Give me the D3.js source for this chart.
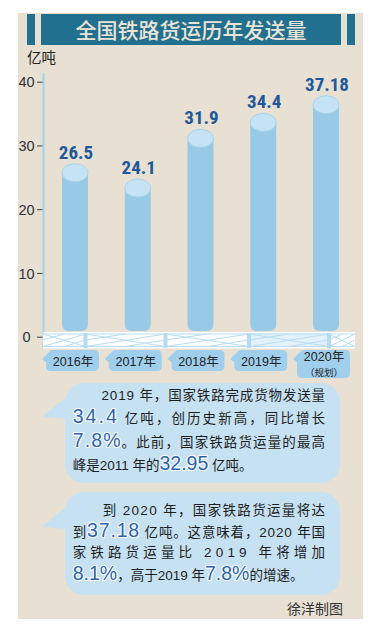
<!DOCTYPE html>
<html><head><meta charset="utf-8">
<script src="https://cdn.jsdelivr.net/npm/d3@7"></script>
<style>body{margin:0;background:#fff}svg{display:block}</style>
</head><body>
<svg id="c" width="384" height="642"></svg>
<script>
// ---- data ----
const title = "全国铁路货运历年发送量";
const unitLabel = "亿吨";
const years = ["2016年", "2017年", "2018年", "2019年", "2020年"];
const yearNotes = ["", "", "", "", "（规划）"];
const values = [26.5, 24.1, 31.9, 34.4, 37.18];
const valueLabels = ["26.5", "24.1", "31.9", "34.4", "37.18"];
const yTicks = [0, 10, 20, 30, 40];
// text blocks: [segment text, highlighted]
const note1 = [
  [["2019 年，国家铁路完成货物发送量", 0]],
  [["34.4", 1], [" 亿吨，创历史新高，同比增长", 0]],
  [["7.8%", 1], ["。此前，国家铁路货运量的最高", 0]],
  [["峰是2011 年的", 0], ["32.95", 1], [" 亿吨。", 0]]
];
const note2 = [
  [["到 2020 年，国家铁路货运量将达", 0]],
  [["到", 0], ["37.18", 1], [" 亿吨。这意味着，2020 年国", 0]],
  [["家铁路货运量比 2019 年将增加", 0]],
  [["8.1%", 1], ["，高于2019 年", 0], ["7.8%", 1], ["的增速。", 0]]
];
const credit = "徐洋制图";

// ---- drawing ----
const svg = d3.select("#c");
const FONT = "'Liberation Sans','Noto Sans CJK SC',sans-serif";
const CJK = "'Noto Sans CJK SC',sans-serif";

svg.append("rect").attr("width", 384).attr("height", 642).attr("fill", "#fff");
svg.append("rect").attr("x", 18).attr("y", 13).attr("width", 345).attr("height", 606).attr("fill", "#e8e0d3");

// title bar
const TB = "#21708f";
svg.append("rect").attr("x", 27).attr("y", 14).attr("width", 8).attr("height", 31).attr("fill", TB);
svg.append("rect").attr("x", 41).attr("y", 14).attr("width", 300).attr("height", 31).attr("fill", TB);
svg.append("rect").attr("x", 347).attr("y", 14).attr("width", 8).attr("height", 31).attr("fill", TB);
svg.append("text").attr("x", 191).attr("y", 37.5).attr("text-anchor", "middle")
  .attr("font-family", CJK).attr("font-size", 21).attr("font-weight", 500)
  .attr("fill", "#ebe3d5").text(title);

svg.append("text").attr("x", 27).attr("y", 62.5).attr("font-family", CJK)
  .attr("font-size", 14.5).attr("fill", "#222").text(unitLabel);

// scales
const x = d3.scalePoint().domain(years).range([75, 326]);
const y = d3.scaleLinear().domain([0, 40]).range([336.7, 81.7]);

// axis
const ax = svg.append("g").attr("transform", "translate(43,0)")
  .call(d3.axisLeft(y).tickValues(yTicks).tickSize(6).tickFormat(d3.format("d")));
ax.select(".domain").remove();
ax.selectAll(".tick line").attr("stroke", "#444").attr("stroke-width", 1);
ax.selectAll(".tick text").attr("x", -16.5).attr("text-anchor", "middle")
  .attr("font-family", FONT).attr("font-size", 14.5).attr("fill", "#333").attr("dy", "0.36em");
svg.append("line").attr("x1", 43.5).attr("x2", 43.5).attr("y1", 73).attr("y2", 348.5)
  .attr("stroke", "#a3d2ee").attr("stroke-width", 2);

// base platform (truss)
const base = svg.append("g");
base.append("rect").attr("x", 43).attr("y", 332).attr("width", 312).attr("height", 16.5).attr("fill", "#fdfeff");
base.append("rect").attr("x", 249).attr("y", 333).attr("width", 80).attr("height", 14).attr("fill", "#e3f1fa");
const posts = [43, 85.5, 165.5, 249, 329, 355];
const tl = "#b9def2";
base.append("line").attr("x1", 43).attr("x2", 355).attr("y1", 334).attr("y2", 334).attr("stroke", tl);
base.append("line").attr("x1", 43).attr("x2", 355).attr("y1", 346.5).attr("y2", 346.5).attr("stroke", tl);
for (let i = 0; i < posts.length - 1; i++) {
  const a = posts[i], b = posts[i + 1];
  base.append("line").attr("x1", a).attr("y1", 334).attr("x2", b).attr("y2", 346.5).attr("stroke", tl);
  base.append("line").attr("x1", a).attr("y1", 346.5).attr("x2", b).attr("y2", 334).attr("stroke", tl);
  const m = (a + b) / 2;
  base.append("line").attr("x1", a).attr("y1", 340).attr("x2", m).attr("y2", 334).attr("stroke", tl);
  base.append("line").attr("x1", m).attr("y1", 346.5).attr("x2", b).attr("y2", 340).attr("stroke", tl);
}
posts.slice(1, 5).forEach(p => {
  base.append("rect").attr("x", p - 2).attr("y", 333).attr("width", 4).attr("height", 15).attr("fill", "#b3dbf1");
});

// bars (cylinders)
const BW = 26, BOT = 331, RY = 9, R = 7;
const bars = svg.append("g").selectAll("g").data(values).join("g");
bars.each(function (v, i) {
  const g = d3.select(this);
  const cx = x(years[i]);
  const cy = y(v) + 5;
  const l = cx - BW / 2, r = cx + BW / 2;
  g.append("path").attr("d",
    `M${l},${cy} L${l},${BOT - R} Q${l},${BOT} ${l + R},${BOT} L${r - R},${BOT} Q${r},${BOT} ${r},${BOT - R} L${r},${cy} Z`)
    .attr("fill", "#98c9e6");
  g.append("ellipse").attr("cx", cx).attr("cy", cy).attr("rx", BW / 2).attr("ry", RY)
    .attr("fill", "#c5e3f5").attr("stroke", "#a6d4ee").attr("stroke-width", 1);
  g.append("text").attr("x", cx + 1).attr("y", cy - RY - 5).attr("text-anchor", "middle")
    .attr("font-family", "'Liberation Sans Narrow','Roboto Condensed','Liberation Sans',sans-serif")
    .attr("font-weight", "bold").attr("font-size", 19).attr("fill", "#20599b")
    .text(valueLabels[i]);
});

// x tags
const tags = svg.append("g");
years.forEach((yr, i) => {
  const cx = x(yr) - 3;
  const x0 = cx - 26, x1 = cx + 27, y0 = 350, y1 = yearNotes[i] ? 378 : 371, rr = 5;
  const p = `M${x0 + 3},${y0 + 2} Q${x0 + 5},${y0} ${x0 + rr + 2},${y0} L${x1 - rr},${y0} Q${x1},${y0} ${x1},${y0 + rr}
    L${x1},${y1 - rr} Q${x1},${y1} ${x1 - rr},${y1} L${x0 + rr},${y1} Q${x0},${y1} ${x0},${y1 - rr}
    L${x0},${y0 + 12} L${x0 - 4},${y0 + 9} Z`;
  tags.append("path").attr("d", p).attr("fill", "#9fcfec");
  const t = tags.append("text").attr("x", cx + 1).attr("text-anchor", "middle")
    .attr("font-family", FONT).attr("font-size", 12.5).attr("fill", "#222");
  if (yearNotes[i]) {
    t.attr("y", 361).text(yr);
    tags.append("text").attr("x", cx + 1).attr("y", 375.5).attr("text-anchor", "middle")
      .attr("font-family", CJK).attr("font-size", 9.5).attr("fill", "#222").text(yearNotes[i]);
  } else {
    t.attr("y", 365.5).text(yr);
  }
});

// bubbles
function bubble(yTop, h, tipY) {
  const g = svg.append("g");
  g.append("path").attr("d", `M42,${tipY} L80,${yTop + 3} L68,${tipY + 2} Z`).attr("fill", "#c6e1f2");
  g.append("rect").attr("x", 65).attr("y", yTop).attr("width", 275).attr("height", h).attr("rx", 19)
    .attr("fill", "#c6e1f2");
  return g;
}
function textLine(g, x0, yb, segs, justifyTo) {
  const t = g.append("text").attr("x", x0).attr("y", yb).attr("font-family", FONT)
    .attr("font-size", 13.5).attr("fill", "#1e1e1e");
  segs.forEach(([s, big]) => {
    const ts = t.append("tspan").text(s);
    if (big) {
      ts.attr("font-size", 19.5).attr("fill", "#2c63a7").attr("stroke", "#fff")
        .attr("stroke-width", 2.2).attr("paint-order", "stroke").attr("stroke-linejoin", "round");
    }
  });
  if (justifyTo) {
    t.attr("textLength", justifyTo - x0).attr("lengthAdjust", "spacing");
  }
}
const b1 = bubble(383, 100, 417);
const ys1 = [400, 423, 446.5, 470];
note1.forEach((segs, i) => textLine(b1, i === 0 ? 101.5 : 72.7, ys1[i], segs, i < 3 ? 325 : null));
const b2 = bubble(492, 103, 527);
const ys2 = [515, 537, 557, 580];
note2.forEach((segs, i) => textLine(b2, i === 0 ? 102.7 : 72.7, ys2[i], segs, i < 3 ? 325 : null));

svg.append("text").attr("x", 343).attr("y", 614).attr("text-anchor", "end")
  .attr("font-family", CJK).attr("font-size", 14).attr("fill", "#333").text(credit);
</script>
</body></html>
